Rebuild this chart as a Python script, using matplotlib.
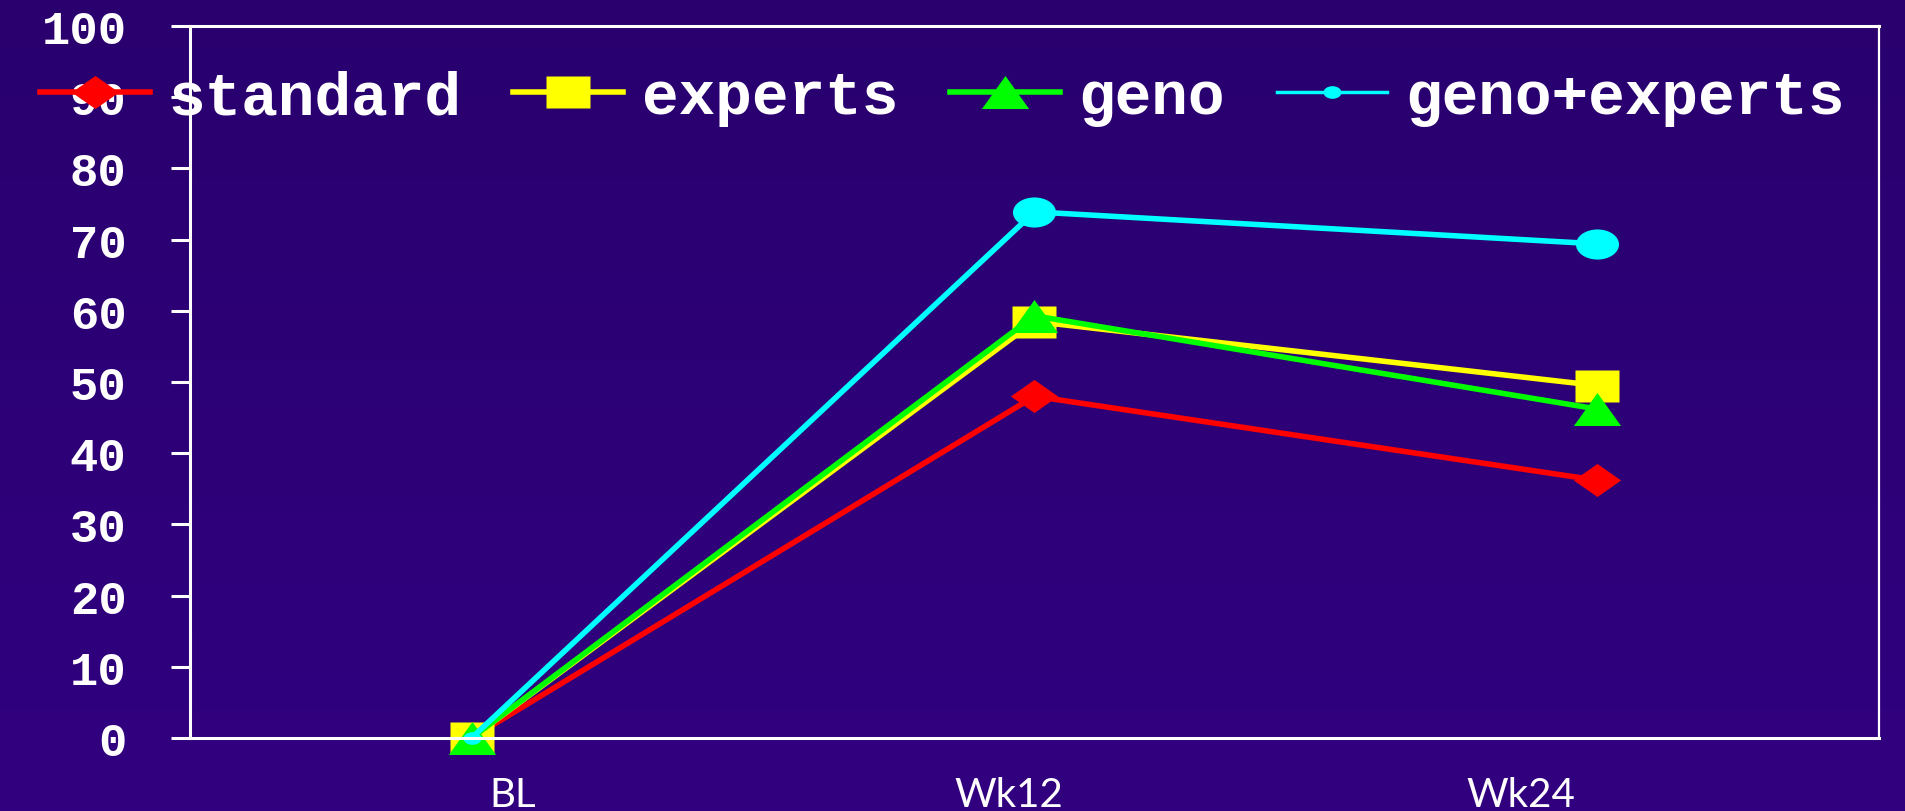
import numpy as np
import matplotlib
matplotlib.use('Agg')
import matplotlib.pyplot as plt
from matplotlib.colors import LinearSegmentedColormap
from matplotlib.path import Path
from matplotlib.transforms import Affine2D, ScaledTranslation

categories = ['BL', 'Wk12', 'Wk24']
standard = [0, 48.0, 36.2]
experts = [0, 58.5, 49.5]
geno = [0, 59.3, 46.2]
geno_experts = [0, 73.9, 69.4]
yticks = list(range(0, 101, 10))

# markers in the original are squashed (wider than tall)
diamond = [(-1, 0), (0, 0.7), (1, 0), (0, -0.7)]
rect = [(-1, -0.7), (1, -0.7), (1, 0.7), (-1, 0.7)]
tri = [(-1, -0.7), (0, 0.7), (1, -0.7)]
ellipse = Path.unit_circle().transformed(Affine2D().scale(1, 0.7))

fig = plt.figure(figsize=(19.06, 8.12), dpi=100)

# gradient background
bg = fig.add_axes([0, 0, 1, 1], zorder=-10)
bg.axis('off')
cmap = LinearSegmentedColormap.from_list('bg', ['#29006e', '#310080'])
bg.imshow(np.linspace(0, 1, 256)[:, None], aspect='auto', cmap=cmap,
          extent=[0, 1, 0, 1], origin='upper')

ax = fig.add_axes([0.0997, 0.0899, 0.8861, 0.8768])
ax.patch.set_visible(False)

x = np.arange(len(categories))
lw = 4
kw = dict(lw=lw, mec='none', clip_on=False)
ax.plot(x, standard, color='#ff0000', marker=diamond, ms=34, label='standard', **kw)
ax.plot(x, experts, color='#ffff00', marker=rect, ms=32, label='experts', **kw)
ax.plot(x, geno, color='#00ff00', marker=tri, ms=34, label='geno', **kw)
ax.plot(x, geno_experts, color='#00ffff', marker=ellipse, ms=13, label='geno+experts', **kw)
ax.plot(x[1:], geno_experts[1:], ls='none', color='#00ffff', marker=ellipse, ms=31, mec='none')

ax.set_xlim(-0.5, 2.5)
ax.set_ylim(0, 100)
ax.set_yticks(yticks)
ax.set_xticks(x)
ax.set_xticklabels(categories)

for s in ax.spines.values():
    s.set_color('white')
    s.set_linewidth(2.2)
ax.spines['right'].set_linewidth(1.6)

ax.tick_params(axis='y', direction='out', length=13.7, width=2.2, color='white',
               labelcolor='white', pad=32, labelsize=34)
ax.tick_params(axis='x', length=0, labelcolor='white', pad=27, labelsize=29)
for lab in ax.get_yticklabels():
    lab.set_fontfamily('Liberation Mono')
    lab.set_fontweight('bold')
for lab, dx in zip(ax.get_xticklabels(), [41, -26, -77]):
    lab.set_fontfamily('Lato')
    lab.set_transform(lab.get_transform() + ScaledTranslation(dx / 100, 0, fig.dpi_scale_trans))

leg = ax.legend(loc='center left', bbox_to_anchor=(0.021, 0.879), bbox_transform=fig.transFigure,
                ncol=4, frameon=False, borderpad=0, borderaxespad=0,
                handlelength=1.8, handletextpad=0.3, columnspacing=0.85,
                prop={'family': 'Liberation Mono', 'weight': 'bold', 'size': 44})
for t in leg.get_texts():
    t.set_color('white')
leg.legend_handles[3].set_linewidth(2.5)

fig.savefig('out.png', dpi=100)
